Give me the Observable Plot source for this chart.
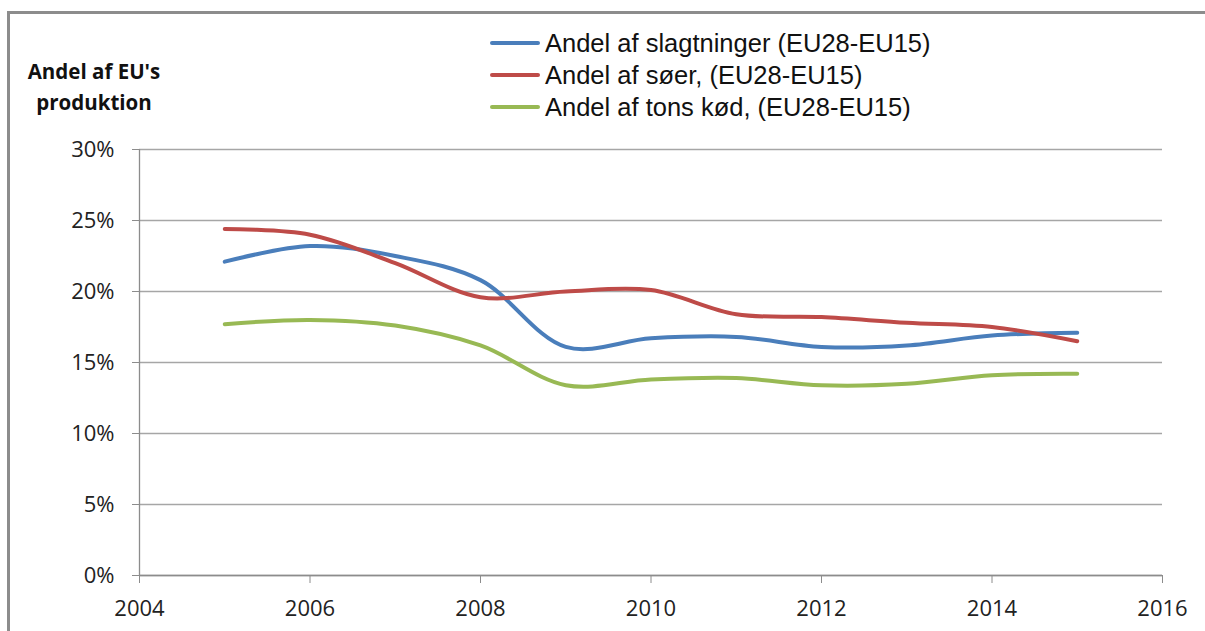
<!DOCTYPE html>
<html>
<head>
<meta charset="utf-8">
<script src="https://cdn.jsdelivr.net/npm/d3@7"></script>
<script src="https://cdn.jsdelivr.net/npm/@observablehq/plot@0.6"></script>
<style>
  html, body { margin: 0; padding: 0; background: #fff; }
  #wrap { position: relative; width: 1205px; height: 631px; overflow: hidden; background: #fff; }
  #frame { position: absolute; left: 7px; top: 11px; width: 1210px; height: 700px;
           border-left: 3px solid #8c8c8c; border-top: 3px solid #8c8c8c; box-sizing: border-box; }
  #chart { position: absolute; left: 0; top: 0; }
  #ytitle { position: absolute; left: 4px; top: 56px; width: 180px; text-align: center;
            font-family: "Open Sans", sans-serif; font-weight: bold; font-size: 20.5px; line-height: 31px; color: #111; }
  #legend { position: absolute; left: 490px; top: 27px; font-family: "Liberation Sans", Arial, sans-serif;
            font-size: 25.5px; color: #111; }
  .li { display: flex; align-items: center; height: 32px; }
  .sw { width: 50px; height: 4px; margin-right: 5px; border-radius: 2px; }
</style>
</head>
<body>
<div id="wrap">
  <div id="frame"></div>
  <div id="chart"></div>
  <div id="ytitle">Andel af EU's<br>produktion</div>
  <div id="legend"></div>
</div>
<script>
const years = [2005, 2006, 2007, 2008, 2009, 2010, 2011, 2012, 2013, 2014, 2015];
const seriesNames = [
  "Andel af slagtninger (EU28-EU15)",
  "Andel af søer, (EU28-EU15)",
  "Andel af tons kød, (EU28-EU15)"
];
const slagtninger = [0.221, 0.232, 0.225, 0.208, 0.161, 0.167, 0.168, 0.161, 0.162, 0.169, 0.171];
const soeer       = [0.244, 0.240, 0.220, 0.196, 0.200, 0.201, 0.184, 0.182, 0.178, 0.175, 0.165];
const tonsKoed    = [0.177, 0.180, 0.176, 0.162, 0.134, 0.138, 0.139, 0.134, 0.135, 0.141, 0.142];
const colors = ["#4a7ebb", "#be4b48", "#98b954"];
const xTicks = [2004, 2006, 2008, 2010, 2012, 2014, 2016];
const yTicks = [0, 0.05, 0.10, 0.15, 0.20, 0.25, 0.30];

const allSeries = [slagtninger, soeer, tonsKoed];
const data = [];
allSeries.forEach((vals, i) => vals.forEach((v, j) => data.push({year: years[j], value: v, series: seriesNames[i]})));

const chart = Plot.plot({
  width: 1205,
  height: 631,
  marginLeft: 139,
  marginRight: 43,
  marginTop: 149,
  marginBottom: 56,
  style: {fontFamily: "'Open Sans', sans-serif", fontSize: "22px", color: "#222", background: "transparent"},
  x: {domain: [2004, 2016]},
  y: {domain: [0, 0.30]},
  color: {domain: seriesNames, range: colors},
  marks: [
    Plot.gridY(yTicks, {stroke: "#a6a6a6", strokeOpacity: 1, strokeWidth: 1.3}),
    Plot.ruleX([2004], {stroke: "#8c8c8c", strokeWidth: 1.3}),
    Plot.ruleY([0], {stroke: "#8c8c8c", strokeWidth: 1.3}),
    Plot.axisY(yTicks, {tickFormat: d => Math.round(d * 100) + "%", tickSize: 7, tickPadding: 18, stroke: "#8c8c8c", label: null, fill: "#222"}),
    Plot.axisX(xTicks, {tickFormat: d => String(d), tickSize: 8, tickPadding: 17, stroke: "#8c8c8c", label: null, fill: "#222"}),
    Plot.line(data, {x: "year", y: "value", z: "series", stroke: "series", strokeWidth: 4, curve: "catmull-rom"})
  ]
});
document.getElementById("chart").appendChild(chart);

const legend = document.getElementById("legend");
seriesNames.forEach((name, i) => {
  const row = document.createElement("div");
  row.className = "li";
  const sw = document.createElement("div");
  sw.className = "sw";
  sw.style.background = colors[i];
  const t = document.createElement("span");
  t.textContent = name;
  row.appendChild(sw);
  row.appendChild(t);
  legend.appendChild(row);
});
</script>
</body>
</html>
